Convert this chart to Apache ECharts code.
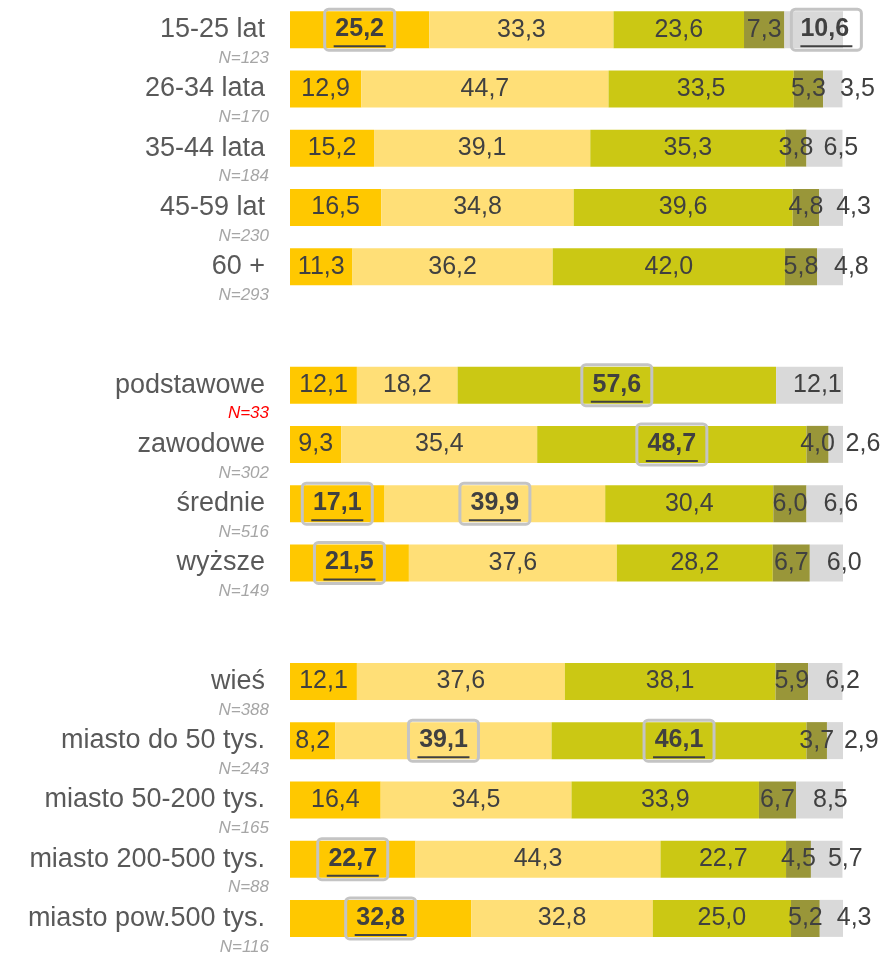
<!DOCTYPE html>
<html><head><meta charset="utf-8">
<script src="https://cdn.jsdelivr.net/npm/echarts@6/dist/echarts.min.js"></script>
<style>html,body{margin:0;padding:0;background:#fff}#c{width:881px;height:954px}</style>
</head><body><div id="c"></div>
<script>
const categories = ['15-25 lat','26-34 lata','35-44 lata','45-59 lat','60 +','',
  'podstawowe','zawodowe','średnie','wyższe','',
  'wieś','miasto do 50 tys.','miasto 50-200 tys.','miasto 200-500 tys.','miasto pow.500 tys.'];
const sampleN = [123,170,184,230,293,null,33,302,516,149,null,388,243,165,88,116];
const lowN = [33];
const s1 = [25.2,12.9,15.2,16.5,11.3,null,12.1,9.3,17.1,21.5,null,12.1,8.2,16.4,22.7,32.8];
const s2 = [33.3,44.7,39.1,34.8,36.2,null,18.2,35.4,39.9,37.6,null,37.6,39.1,34.5,44.3,32.8];
const s3 = [23.6,33.5,35.3,39.6,42.0,null,57.6,48.7,30.4,28.2,null,38.1,46.1,33.9,22.7,25.0];
const s4 = [7.3,5.3,3.8,4.8,5.8,null,0,4.0,6.0,6.7,null,5.9,3.7,6.7,4.5,5.2];
const s5 = [10.6,3.5,6.5,4.3,4.8,null,12.1,2.6,6.6,6.0,null,6.2,2.9,8.5,5.7,4.3];
// highlighted cells: [row index, series index]
const highlights = [[0,0],[0,4],[6,2],[7,2],[8,0],[8,1],[9,0],[12,1],[12,2],[14,0],[15,0]];

const seriesValues = [s1,s2,s3,s4,s5];
const colors = ['#FFC800','#FFDF77','#CBC814','#999639','#D9D9D9'];
const FONT = 'Liberation Sans';
const fmt = v => v.toFixed(1).replace('.', ',');
const isHL = (r,s) => highlights.some(h => h[0]===r && h[1]===s);

const series = seriesValues.map((arr, si) => ({
  type: 'bar', stack: 'all', barWidth: 37,
  itemStyle: { color: colors[si] },
  label: {
    show: true,
    position: si === 4 ? 'insideLeft' : 'inside',
    distance: 8,
    fontFamily: FONT, fontSize: 25, color: '#404040',
    padding: [3, 9, 3, 9],
    formatter: p => {
      if (p.value == null || p.value === 0) return '';
      if (isHL(p.dataIndex, si)) return '{b|' + fmt(p.value) + '}\n{u| }';
      return '{t|' + fmt(p.value) + '}';
    },
    rich: {
      t: { fontFamily: FONT, fontSize: 25, color: '#404040', lineHeight: 30 },
      b: { fontFamily: FONT, fontSize: 25, fontWeight: 'bold', color: '#404040', lineHeight: 30 },
      u: { fontSize: 2, lineHeight: 4, height: 2, width: 52, backgroundColor: '#404040' }
    }
  },
  data: arr.map((v, ri) => {
    const item = { value: v };
    if (isHL(ri, si)) {
      item.label = { borderColor: '#C4C4C4', borderWidth: 3, borderRadius: 4, distance: 7, padding: [5, 9, 2, 9] };
    }
    return item;
  })
}));

const chart = echarts.init(document.getElementById('c'));
chart.setOption({
  animation: false,
  grid: { left: 290, right: 38, top: 0, bottom: 6, containLabel: false, outerBoundsMode: 'none' },
  xAxis: { type: 'value', min: 0, max: 100, show: false },
  yAxis: {
    type: 'category', inverse: true, data: categories,
    axisLine: { show: false }, axisTick: { show: false },
    axisLabel: {
      margin: 21, align: 'right', interval: 0,
      formatter: (val, idx) => {
        if (!val) return '';
        const n = sampleN[idx];
        const tag = lowN.includes(n) ? 'r' : 'n';
        return '{s| }\n{a|' + val + '}\n{' + tag + '|N=' + n + '}';
      },
      rich: {
        s: { fontSize: 17, lineHeight: 27 },
        a: { fontFamily: FONT, fontSize: 27, color: '#595959', lineHeight: 30, padding: [0, 4, 0, 0], align: 'right' },
        n: { fontFamily: FONT, fontSize: 17, fontStyle: 'italic', color: '#A6A6A6', lineHeight: 27, align: 'right' },
        r: { fontFamily: FONT, fontSize: 17, fontStyle: 'italic', color: '#FF0000', lineHeight: 27, align: 'right' }
      }
    }
  },
  series: series
});
</script></body></html>
